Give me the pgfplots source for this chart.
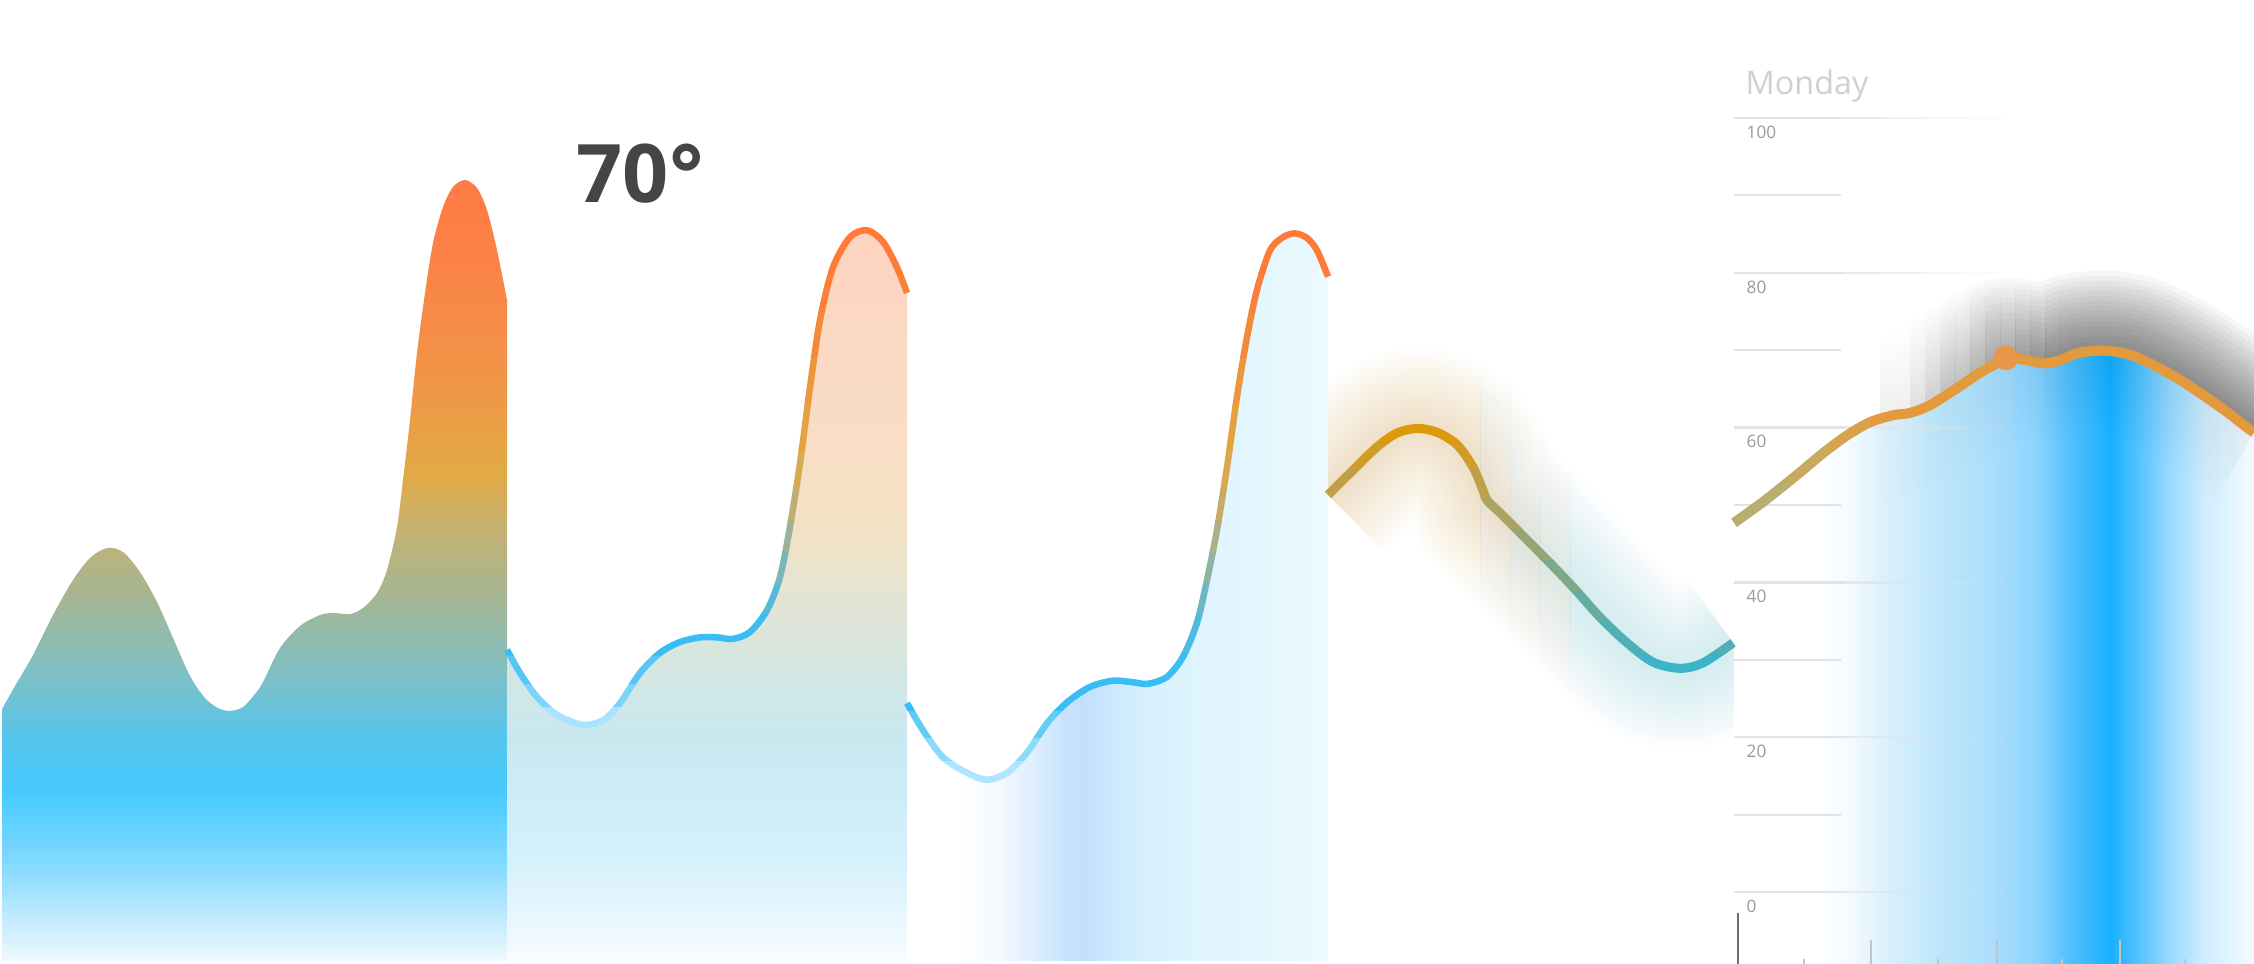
\documentclass[border=0pt]{standalone}
\usepackage{pgfplots}
\pgfplotsset{compat=1.18}
\usepackage{pgfplotstable}
\usepackage{fontspec}
\setmainfont{Open Sans}

% ---------- colours ----------
\definecolor{c1a}{HTML}{EFF9FE}\definecolor{c1b}{HTML}{BFEAFF}\definecolor{c1c}{HTML}{88DBFF}
\definecolor{c1d}{HTML}{45C9FF}\definecolor{c1e}{HTML}{55C5EC}\definecolor{c1f}{HTML}{7EC0C6}
\definecolor{c1g}{HTML}{A4B693}\definecolor{c1h}{HTML}{C2B277}\definecolor{c1i}{HTML}{E2AA45}
\definecolor{c1j}{HTML}{F19547}\definecolor{c1k}{HTML}{FA8446}\definecolor{c1l}{HTML}{FF7A45}
\definecolor{c2a}{HTML}{F7FCFF}\definecolor{c2b}{HTML}{D5F1FB}\definecolor{c2c}{HTML}{C8E8F0}
\definecolor{c2d}{HTML}{D6E6E0}\definecolor{c2e}{HTML}{E6E4D2}\definecolor{c2f}{HTML}{F4E1C3}
\definecolor{c2g}{HTML}{FADCC5}\definecolor{c2h}{HTML}{FDD3C0}
\definecolor{c3a}{HTML}{FFFFFF}\definecolor{c3b}{HTML}{F2F9FE}\definecolor{c3c}{HTML}{DDEEFD}
\definecolor{c3d}{HTML}{C9E3FE}\definecolor{c3e}{HTML}{C2E0FE}\definecolor{c3f}{HTML}{C8E5FE}
\definecolor{c3g}{HTML}{D5EFFE}\definecolor{c3h}{HTML}{DCF3FE}\definecolor{c3i}{HTML}{E3F6FE}
\definecolor{c3j}{HTML}{EDF9FF}
\definecolor{c5a}{HTML}{FFFFFF}\definecolor{c5b}{HTML}{F2FAFE}\definecolor{c5c}{HTML}{D6EFFC}
\definecolor{c5d}{HTML}{B8E4FB}\definecolor{c5e}{HTML}{A5DCFC}\definecolor{c5f}{HTML}{7FD0FF}
\definecolor{c5g}{HTML}{40BAFF}\definecolor{c5h}{HTML}{00A8FF}\definecolor{c5i}{HTML}{40BCFF}
\definecolor{c5j}{HTML}{90D6FF}\definecolor{c5k}{HTML}{C8EBFF}\definecolor{c5l}{HTML}{F5FBFF}
\definecolor{glowA}{HTML}{D9A54A}
\definecolor{glowB}{HTML}{C2AD6D}
\definecolor{glowC}{HTML}{ABB690}
\definecolor{glowD}{HTML}{93BEB3}
\definecolor{glowE}{HTML}{7CC6D6}
\definecolor{marker5}{HTML}{E8964A}
\definecolor{gridc}{HTML}{E3E3E3}
\definecolor{ticklab}{HTML}{9A9A9A}
\definecolor{mondaygray}{HTML}{D0D0D0}
\definecolor{txtseventy}{HTML}{454545}
\definecolor{axisdark}{HTML}{707070}
\definecolor{tickgray}{HTML}{C4C4C4}

% ---------- shadings for the area fills ----------
\pgfdeclareverticalshading{shOne}{100bp}{color(0bp)=(c1a); color(25bp)=(c1a); color(27.9bp)=(c1b);
 color(30.9bp)=(c1c); color(35.9bp)=(c1d); color(39.3bp)=(c1e); color(43.3bp)=(c1f); color(48.2bp)=(c1g);
 color(52.2bp)=(c1h); color(56.2bp)=(c1i); color(62.1bp)=(c1j); color(69bp)=(c1k); color(75bp)=(c1l); color(100bp)=(c1l)}
\pgfdeclareverticalshading{shTwo}{100bp}{color(0bp)=(c2a); color(25bp)=(c2a); color(31.8bp)=(c2b);
 color(40.3bp)=(c2c); color(45.6bp)=(c2d); color(50.4bp)=(c2e); color(55.1bp)=(c2f); color(62.6bp)=(c2g);
 color(75bp)=(c2h); color(100bp)=(c2h)}
\pgfdeclarehorizontalshading{shThree}{100bp}{color(0bp)=(c3a); color(31.3bp)=(c3a); color(36bp)=(c3b);
 color(40.2bp)=(c3c); color(43.8bp)=(c3d); color(45.5bp)=(c3e); color(47.9bp)=(c3f); color(52.7bp)=(c3g);
 color(57.4bp)=(c3h); color(65.7bp)=(c3i); color(75bp)=(c3j); color(100bp)=(c3j)}
\pgfdeclarehorizontalshading{shFive}{100bp}{color(0bp)=(c5a); color(33.3bp)=(c5a); color(36.2bp)=(c5b);
 color(39.7bp)=(c5c); color(44.5bp)=(c5d); color(49.3bp)=(c5e); color(54.1bp)=(c5f); color(57.3bp)=(c5g);
 color(61.2bp)=(c5h); color(63.8bp)=(c5i); color(66.9bp)=(c5j); color(70.1bp)=(c5k); color(75bp)=(c5l); color(100bp)=(c5l)}

% one colour band of a gradient stroke: table, low, high, colour, width
\newcommand\yband[5]{%
  \begin{scope}
  \clip (axis cs:0,#2) rectangle (axis cs:2254,#3);
  \addplot[smooth, color=#4, line width=#5] table {#1};
  \end{scope}}
\newcommand\xband[5]{%
  \begin{scope}
  \clip (axis cs:#2,-10) rectangle (axis cs:#3,116);
  \addplot[smooth, color=#4, line width=#5] table {#1};
  \end{scope}}
% shadow zone: xlow, xhigh, opacity per layer
\newcommand\shzone[3]{%
  \begin{scope}
  \clip (axis cs:#1,-10) rectangle (axis cs:#2,116);
  \pgfplotsinvokeforeach{0.1,0.2,0.3,0.4,0.5,0.6,0.7,0.8,0.9,1.0,1.1,1.2,1.3,1.4,1.5,1.6}{%
    \addplot[smooth, draw=black, line width=##1cm, opacity=#3] table {\pfive};}
  \end{scope}}
% glow zone: xlow, xhigh, colour
\newcommand\glowzone[3]{%
  \begin{scope}
  \clip (axis cs:#1,-10) rectangle (axis cs:#2,116);
  \pgfplotsinvokeforeach{0.1,0.2,0.3,0.4,0.5,0.6,0.7,0.8,0.9,1.0,1.1,1.2,1.3,1.4,1.5,1.6}{%
    \addplot[smooth, draw=#3, line width=##1cm, opacity=0.02] table {\pfour};}
  \end{scope}}

% ---------- data ----------
\pgfplotstableread{
x y
2 23.64
15 26.61
33 30.62
53 35.79
73 40.31
90 43.15
107 44.44
123 43.93
140 41.34
157 37.47
173 32.82
190 27.91
205 25.06
218 23.77
230 23.39
243 23.90
255 25.58
263 27.13
280 31.52
300 34.37
320 35.79
333 36.05
350 35.92
363 36.69
377 38.63
387 41.60
397 47.16
403 53.23
410 60.98
417 69.64
425 77.39
433 83.85
443 88.50
453 91.09
465 91.99
477 90.96
487 88.11
497 82.95
507 76.49
}\pone
\pgfplotstableread{
x y
507 31.3
520 28.3
537 25.2
557 22.9
583 21.6
603 22.2
620 24.4
640 28.3
660 30.9
680 32.3
700 32.9
717 32.9
733 32.7
750 33.6
767 36.4
780 40.7
790 47.2
800 55.4
810 65.2
820 73.9
833 80.7
850 84.6
867 85.5
883 84.0
897 80.7
907 77.4
}\ptwo
\pgfplotstableread{
x y
907 24.4
923 20.9
943 17.4
967 15.4
987 14.5
1007 15.4
1027 18.0
1047 21.8
1067 24.5
1090 26.5
1113 27.3
1133 27.1
1148 26.9
1167 27.8
1183 30.4
1197 34.8
1207 40.3
1217 46.8
1227 54.9
1237 64.0
1247 71.7
1257 77.8
1270 82.9
1283 84.6
1295 85.1
1307 84.5
1317 82.9
1328 79.5
}\pthree
\pgfplotstableread{
x y
1328 51.3
1353 54.5
1377 57.5
1397 59.3
1417 59.9
1437 59.4
1457 57.8
1473 54.9
1483 51.9
1487 50.6
1500 49.0
1520 46.4
1547 42.9
1573 39.4
1600 35.5
1627 32.2
1653 29.7
1680 28.9
1703 29.6
1733 32.2
}\pfour
\pgfplotstableread{
x y
1734 47.7
1763 50.4
1797 53.9
1823 56.7
1847 59.0
1870 60.7
1893 61.6
1910 61.9
1930 62.9
1957 65.1
1980 67.1
1997 68.3
2006 69.0
2027 68.7
2043 68.3
2060 68.7
2077 69.6
2093 69.9
2110 69.9
2130 69.4
2150 68.3
2177 66.4
2203 64.2
2227 62.0
2248 59.9
2254 59.4
}\pfive

\begin{document}
\begin{tikzpicture}
\useasboundingbox (0,0) rectangle (22.54cm,9.64cm);
\fill[white] (0,0) rectangle (22.54cm,9.64cm);
\begin{axis}[at={(0,0)}, anchor=south west, scale only axis,
  width=22.54cm, height=9.64cm, xmin=0, xmax=2254, ymin=-9.30, ymax=115.25, hide axis]

% --- panel 4 glow (colour zones from gold to teal) ---
\glowzone{1300}{1480}{glowA}
\glowzone{1480}{1510}{glowB}
\glowzone{1510}{1540}{glowC}
\glowzone{1540}{1570}{glowD}
\glowzone{1570}{1760}{glowE}
\fill[white] (axis cs:907,-9.3) rectangle (axis cs:1328,115.25);
\fill[white] (axis cs:1734,-9.3) rectangle (axis cs:2254,115.25);

% --- panel 5 shadow, fading in towards the right ---
\shzone{1880}{1895}{0.0028}
\shzone{1895}{1910}{0.0056}
\shzone{1910}{1925}{0.0085}
\shzone{1925}{1940}{0.0113}
\shzone{1940}{1955}{0.0141}
\shzone{1955}{1970}{0.0169}
\shzone{1970}{1985}{0.0198}
\shzone{1985}{2000}{0.0226}
\shzone{2000}{2015}{0.0254}
\shzone{2015}{2030}{0.0282}
\shzone{2030}{2045}{0.0311}
\shzone{2045}{2060}{0.0339}
\shzone{2060}{2260}{0.0367}

% --- area fills ---
\addplot[smooth, shade, shading=shOne, draw=none] table {\pone} -- (axis cs:507,-8.9) -- (axis cs:2,-8.9) -- cycle;
\addplot[smooth, shade, shading=shTwo, draw=none] table {\ptwo} -- (axis cs:907,-8.9) -- (axis cs:507,-8.9) -- cycle;
\addplot[smooth, shade, shading=shThree, draw=none] table {\pthree} -- (axis cs:1328,-8.9) -- (axis cs:907,-8.9) -- cycle;
\addplot[smooth, shade, shading=shFive, draw=none, opacity=0.9] table {\pfive} -- (axis cs:2254,-9.3) -- (axis cs:1734,-9.3) -- cycle;

% --- panel 5 grid ---
\pgfplotsinvokeforeach{10,30,50,70,90}{
  \addplot[draw=gridc, line width=0.02cm] coordinates {(1734,#1) (1841,#1)};
}
\pgfplotsinvokeforeach{0,20,40,60,80,100}{
  \addplot[draw=gridc, line width=0.025cm] coordinates {(1734,#1) (1845,#1)};
  \addplot[draw=gridc, line width=0.025cm, opacity=0.75] coordinates {(1845,#1) (1885,#1)};
  \addplot[draw=gridc, line width=0.025cm, opacity=0.5] coordinates {(1885,#1) (1925,#1)};
  \addplot[draw=gridc, line width=0.025cm, opacity=0.3] coordinates {(1925,#1) (1965,#1)};
  \addplot[draw=gridc, line width=0.025cm, opacity=0.12] coordinates {(1965,#1) (2005,#1)};
}
\addplot[draw=axisdark, line width=0.025cm] coordinates {(1738,-2.7) (1738,-9.3)};

% --- gradient stroke panel 2 ---
\yband{\ptwo}{-10}{24}{{rgb,255:red,168;green,228;blue,255}}{0.065cm}
\yband{\ptwo}{24}{27}{{rgb,255:red,125;green,212;blue,250}}{0.065cm}
\yband{\ptwo}{27}{30.5}{{rgb,255:red,85;green,198;blue,247}}{0.065cm}
\yband{\ptwo}{30.5}{36}{{rgb,255:red,56;green,189;blue,245}}{0.065cm}
\yband{\ptwo}{36}{40}{{rgb,255:red,86;green,186;blue,216}}{0.065cm}
\yband{\ptwo}{40}{44}{{rgb,255:red,122;green,182;blue,184}}{0.065cm}
\yband{\ptwo}{44}{48}{{rgb,255:red,156;green,178;blue,152}}{0.065cm}
\yband{\ptwo}{48}{52}{{rgb,255:red,188;green,174;blue,118}}{0.065cm}
\yband{\ptwo}{52}{57}{{rgb,255:red,216;green,170;blue,85}}{0.065cm}
\yband{\ptwo}{57}{63}{{rgb,255:red,228;green,163;blue,64}}{0.065cm}
\yband{\ptwo}{63}{69}{{rgb,255:red,238;green,150;blue,61}}{0.065cm}
\yband{\ptwo}{69}{75}{{rgb,255:red,245;green,137;blue,58}}{0.065cm}
\yband{\ptwo}{75}{80}{{rgb,255:red,250;green,128;blue,57}}{0.065cm}
\yband{\ptwo}{80}{116}{{rgb,255:red,255;green,122;blue,56}}{0.065cm}
% --- gradient stroke panel 3 ---
\yband{\pthree}{-10}{17}{{rgb,255:red,174;green,230;blue,255}}{0.065cm}
\yband{\pthree}{17}{20}{{rgb,255:red,138;green,218;blue,252}}{0.065cm}
\yband{\pthree}{20}{23.5}{{rgb,255:red,98;green,204;blue,248}}{0.065cm}
\yband{\pthree}{23.5}{31}{{rgb,255:red,56;green,189;blue,245}}{0.065cm}
\yband{\pthree}{31}{36}{{rgb,255:red,77;green,187;blue,222}}{0.065cm}
\yband{\pthree}{36}{40}{{rgb,255:red,108;green,184;blue,194}}{0.065cm}
\yband{\pthree}{40}{44}{{rgb,255:red,142;green,180;blue,164}}{0.065cm}
\yband{\pthree}{44}{48}{{rgb,255:red,173;green,176;blue,134}}{0.065cm}
\yband{\pthree}{48}{52}{{rgb,255:red,200;green,172;blue,102}}{0.065cm}
\yband{\pthree}{52}{57}{{rgb,255:red,218;green,169;blue,77}}{0.065cm}
\yband{\pthree}{57}{63}{{rgb,255:red,228;green,163;blue,64}}{0.065cm}
\yband{\pthree}{63}{69}{{rgb,255:red,238;green,150;blue,61}}{0.065cm}
\yband{\pthree}{69}{75}{{rgb,255:red,245;green,137;blue,58}}{0.065cm}
\yband{\pthree}{75}{80}{{rgb,255:red,250;green,128;blue,57}}{0.065cm}
\yband{\pthree}{80}{116}{{rgb,255:red,255;green,122;blue,56}}{0.065cm}
% --- gradient stroke panel 4 ---
\yband{\pfour}{-10}{31}{{rgb,255:red,59;green,179;blue,202}}{0.09cm}
\yband{\pfour}{31}{35}{{rgb,255:red,79;green,176;blue,181}}{0.09cm}
\yband{\pfour}{35}{39}{{rgb,255:red,101;green,173;blue,160}}{0.09cm}
\yband{\pfour}{39}{43}{{rgb,255:red,125;green,169;blue,139}}{0.09cm}
\yband{\pfour}{43}{47}{{rgb,255:red,148;green,166;blue,118}}{0.09cm}
\yband{\pfour}{47}{51}{{rgb,255:red,172;green,162;blue,98}}{0.09cm}
\yband{\pfour}{51}{55}{{rgb,255:red,191;green,159;blue,72}}{0.09cm}
\yband{\pfour}{55}{58}{{rgb,255:red,208;green,156;blue,40}}{0.09cm}
\yband{\pfour}{58}{116}{{rgb,255:red,220;green,154;blue,10}}{0.09cm}
% --- gradient stroke panel 5 ---
\xband{\pfive}{1700}{1790}{{rgb,255:red,184;green,174;blue,112}}{0.1cm}
\xband{\pfive}{1790}{1830}{{rgb,255:red,200;green,170;blue,94}}{0.1cm}
\xband{\pfive}{1830}{1870}{{rgb,255:red,216;green,162;blue,74}}{0.1cm}
\xband{\pfive}{1870}{2260}{{rgb,255:red,227;green,154;blue,60}}{0.1cm}
\addplot[only marks, mark=*, mark size=3.3pt, color=marker5] coordinates {(2006,69.0)};

% --- text ---
\node[anchor=base west, inner sep=0pt, text=txtseventy, font=\bfseries\fontsize{23}{23}\selectfont] at (axis cs:576,89.15) {70°};
\node[anchor=base west, inner sep=0pt, text=mondaygray, font=\fontsize{9.2}{9.2}\selectfont] at (axis cs:1745,103.0) {Monday};
\end{axis}

\begin{axis}[at={(17.34cm,0)}, anchor=south west, scale only axis,
  width=5.20cm, height=9.64cm, xmin=1734, xmax=2254, ymin=-9.30, ymax=115.25,
  axis line style={draw=none}, tick align=inside, tick pos=left,
  xtick={1871,1997,2120}, minor xtick={1804,1938,2062,2185}, xticklabels={},
  major tick length=0.24cm, minor tick length=0.05cm,
  tick style={draw=tickgray, line width=0.015cm},
  ytick={0,20,40,60,80,100}, ytick style={draw=none},
  /pgf/number format/assume math mode=true,
  yticklabel style={anchor=north west, inner sep=0pt, xshift=0.12cm, yshift=-0.07cm,
    font=\fontsize{4.9}{5}\selectfont, text=ticklab},
  clip=false]
\addplot[draw=none] coordinates {(1800,50)};
\end{axis}
\end{tikzpicture}
\end{document}
